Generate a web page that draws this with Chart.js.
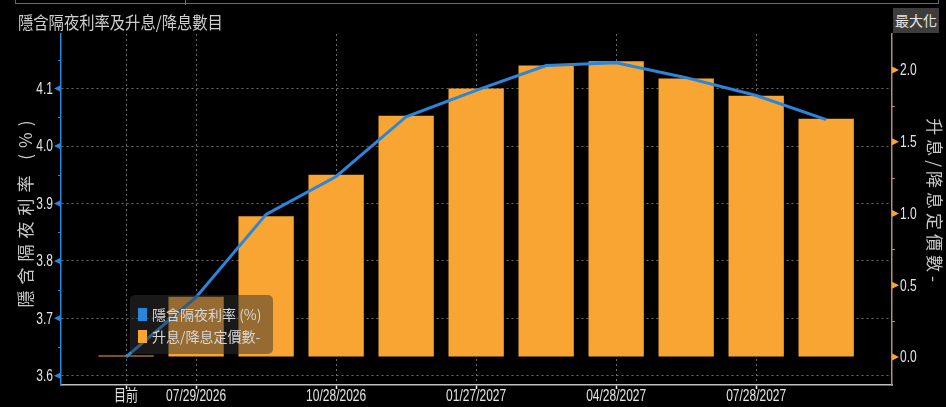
<!DOCTYPE html>
<html>
<head>
<meta charset="utf-8">
<script src="https://cdn.jsdelivr.net/npm/chart.js@4.4.1/dist/chart.umd.min.js"></script>
<style>
  html, body { margin: 0; padding: 0; background: #000; overflow: hidden; }
  #wrap { position: absolute; left: 0; top: 0; width: 946px; height: 407px; }
  #frame { position: absolute; left: 15px; top: 0; width: 922px; height: 3px;
           border: 1px solid #6a6a6a; border-top: none; }
  #frameMid { position: absolute; left: 185px; top: 0; width: 1px; height: 5px; background: #6a6a6a; }
  #title { position: absolute; left: 18px; top: 9px; font: 17px "Noto Sans CJK TC", sans-serif;
           color: #cfcfcf; white-space: nowrap; transform: scaleX(0.9); transform-origin: left top; }
  #maxBtn { position: absolute; left: 893px; top: 8px; width: 46px; height: 25px; background: #3d3d3d;
            color: #e8e8e8; font: 14px "Noto Sans CJK TC", sans-serif; line-height: 25px; text-align: center; }
</style>
</head>
<body>
<div id="wrap"><canvas id="chartWirp"></canvas></div>
<div id="frame"></div>
<div id="frameMid"></div>
<div id="title">隱含隔夜利率及升息/降息數目</div>
<div id="maxBtn">最大化</div>
<script>
// 會議日期（x 軸）
const categories = ['目前', '07/29/2026', '09/16/2026', '10/28/2026', '12/09/2026', '01/27/2027',
                    '03/17/2027', '04/28/2027', '06/09/2027', '07/28/2027', '09/22/2027'];
// 只標示部分日期
const shownTicks = [0, 1, 3, 5, 7, 9];

// 隱含隔夜利率 (%)
const impliedRate = [3.633, 3.737, 3.881, 3.947, 4.051, 4.097, 4.140, 4.145, 4.119, 4.088, 4.046];
// 升息/降息定價數
const hikesPriced = [0.01, 0.42, 0.98, 1.27, 1.68, 1.87, 2.03, 2.06, 1.94, 1.82, 1.66];

const rateTicks = [3.6, 3.7, 3.8, 3.9, 4.0, 4.1];
const hikeTicks = [0.0, 0.5, 1.0, 1.5, 2.0];

const BLUE = '#2a86dc';
const ORANGE = '#f9a533';
const TAN = '#b88c6c';
const LABEL_FONT = '16px "Liberation Sans", "Noto Sans CJK TC", sans-serif';
const CJK = '"Noto Sans CJK TC", sans-serif';

// 窄體文字（橫向壓縮）
function narrowText(ctx, text, x, y, align, sx) {
    ctx.save();
    ctx.translate(x, y);
    ctx.scale(sx, 1);
    ctx.textAlign = align;
    ctx.fillText(text, 0, 0);
    ctx.restore();
}

// 軸刻度三角形、次刻度、刻度文字、圖例、軸標題
const decorPlugin = {
    id: 'decor',
    afterDraw(chart) {
        const ctx = chart.ctx;
        const area = chart.chartArea;
        const xs = chart.scales.x;
        const yL = chart.scales.y;
        const yR = chart.scales.y1;

        ctx.save();
        // 左軸
        ctx.fillStyle = BLUE;
        ctx.strokeStyle = BLUE;
        ctx.lineWidth = 1;
        rateTicks.forEach(v => {
            const y = yL.getPixelForValue(v);
            ctx.beginPath();
            ctx.moveTo(area.left, y - 3.5);
            ctx.lineTo(area.left, y + 3.5);
            ctx.lineTo(area.left - 7, y);
            ctx.closePath();
            ctx.fill();
            const ym = yL.getPixelForValue(v + 0.05);
            if (ym > area.top) {
                ctx.beginPath();
                ctx.moveTo(area.left - 3, Math.round(ym) + 0.5);
                ctx.lineTo(area.left, Math.round(ym) + 0.5);
                ctx.stroke();
            }
        });
        // 右軸
        ctx.fillStyle = ORANGE;
        ctx.strokeStyle = TAN;
        hikeTicks.forEach(v => {
            const y = yR.getPixelForValue(v);
            ctx.beginPath();
            ctx.moveTo(area.right, y - 3.5);
            ctx.lineTo(area.right, y + 3.5);
            ctx.lineTo(area.right + 7, y);
            ctx.closePath();
            ctx.fill();
            const ym = yR.getPixelForValue(v + 0.25);
            if (ym > area.top) {
                ctx.beginPath();
                ctx.moveTo(area.right, Math.round(ym) + 0.5);
                ctx.lineTo(area.right + 3, Math.round(ym) + 0.5);
                ctx.stroke();
            }
        });

        // 刻度文字
        ctx.font = LABEL_FONT;
        ctx.fillStyle = '#e4e4e4';
        ctx.textBaseline = 'middle';
        yL.ticks.forEach(t => narrowText(ctx, t.label, area.left - 8, yL.getPixelForValue(t.value) + 1, 'right', 0.75));
        yR.ticks.forEach(t => narrowText(ctx, t.label, area.right + 8, yR.getPixelForValue(t.value) + 1, 'left', 0.75));
        xs.ticks.forEach(t => narrowText(ctx, t.label, xs.getPixelForValue(t.value), area.bottom + 12, 'center', 0.75));

        // 圖例
        const lx = 130, ly = 295, lw = 143, lh = 59;
        ctx.fillStyle = 'rgba(50, 50, 50, 0.5)';
        ctx.beginPath();
        ctx.roundRect(lx, ly, lw, lh, 5);
        ctx.fill();
        const sw = [BLUE, ORANGE];
        ctx.font = '14px ' + CJK;
        ctx.textAlign = 'left';
        chart.data.datasets.forEach((ds, i) => {
            const cy = 315 + i * 22;
            ctx.fillStyle = sw[i];
            ctx.fillRect(lx + 8, cy - 7, 9, 13);
            ctx.fillStyle = '#d6d6d6';
            ctx.fillText(ds.label, lx + 22, cy);
        });

        // 軸標題
        ctx.fillStyle = '#c8c8c8';
        ctx.font = '17px ' + CJK;
        ctx.textAlign = 'center';
        ctx.save();
        ctx.letterSpacing = '6px';
        ctx.translate(26, 211);
        ctx.rotate(-Math.PI / 2);
        ctx.fillText('隱含隔夜利率 (%)', 0, 0);
        ctx.restore();
        ctx.save();
        ctx.letterSpacing = '4px';
        ctx.translate(934, 202);
        ctx.rotate(Math.PI / 2);
        ctx.fillText('升息/降息定價數-', 0, 0);
        ctx.restore();
        ctx.restore();
    }
};

const config = {
    data: {
        datasets: [
            {
                type: 'line',
                label: '隱含隔夜利率 (%)',
                data: impliedRate.map((v, i) => ({ x: i, y: v })),
                borderColor: BLUE,
                backgroundColor: BLUE,
                borderWidth: 3,
                pointRadius: 0,
                tension: 0,
                yAxisID: 'y',
                order: 0
            },
            {
                type: 'bar',
                label: '升息/降息定價數-',
                data: hikesPriced.map((v, i) => ({ x: i, y: v })),
                backgroundColor: ORANGE,
                categoryPercentage: 1,
                barPercentage: 0.79,
                yAxisID: 'y1',
                order: 1
            }
        ]
    },
    options: {
        responsive: true,
        maintainAspectRatio: false,
        animation: false,
        layout: { padding: { top: 34, left: 0, right: 0, bottom: 0 } },
        plugins: {
            legend: { display: false },
            title: { display: false },
            tooltip: { enabled: false }
        },
        scales: {
            x: {
                type: 'linear',
                position: 'bottom',
                offset: false,
                min: -0.93,
                max: 10.94,
                afterBuildTicks: s => { s.ticks = shownTicks.map(v => ({ value: v })); },
                afterFit: s => { s.height = 22; },
                ticks: { callback: v => categories[v], display: false, autoSkip: false },
                grid: { offset: false, color: '#6a6a6a', tickColor: '#eeeeee', tickLength: 4, tickWidth: 1.5 },
                border: { color: '#c0c0c0', width: 1.5, dash: [2, 3] }
            },
            y: {
                type: 'linear',
                position: 'left',
                min: 3.584,
                max: 4.195,
                afterBuildTicks: s => { s.ticks = rateTicks.map(v => ({ value: v })); },
                afterFit: s => { s.width = 61; },
                ticks: { callback: v => v.toFixed(1), display: false },
                grid: { color: '#6a6a6a', drawTicks: false },
                border: { color: BLUE, width: 1.5, dash: [2, 3] }
            },
            y1: {
                type: 'linear',
                position: 'right',
                min: -0.195,
                max: 2.25,
                afterBuildTicks: s => { s.ticks = hikeTicks.map(v => ({ value: v })); },
                afterFit: s => { s.width = 54; },
                ticks: { callback: v => v.toFixed(1), display: false },
                grid: { drawOnChartArea: false, drawTicks: false },
                border: { color: TAN, width: 1.5 }
            }
        }
    },
    plugins: [decorPlugin]
};

new Chart(document.getElementById('chartWirp').getContext('2d'), config);
</script>
</body>
</html>
